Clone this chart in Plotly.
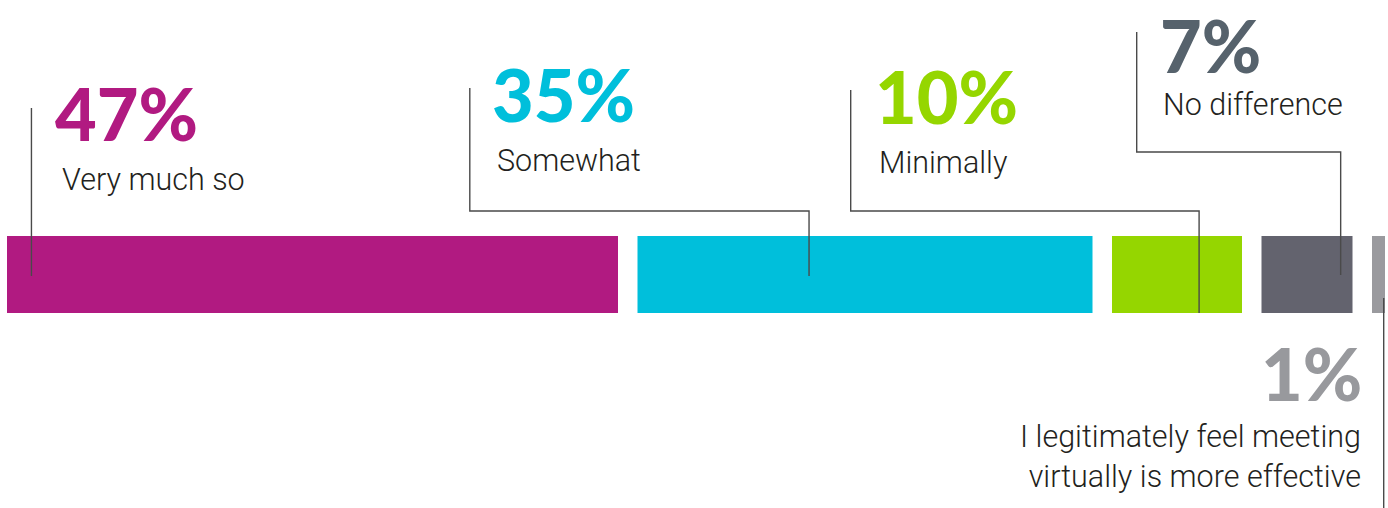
import plotly.graph_objects as go

# Survey responses
categories = ["Very much so", "Somewhat", "Minimally", "No difference",
              "I legitimately feel meeting<br>virtually is more effective"]
values = [47, 35, 10, 7, 1]
value_labels = ["47%", "35%", "10%", "7%", "1%"]

bar_colors = ["#B11A81", "#00BFDB", "#95D600", "#63636E", "#9A9A9E"]
number_colors = ["#B11A81", "#00BFDB", "#95D600", "#56626C", "#98999D"]

GAP = 1.5          # spacing between segments, in percent units
BAR_Y = 274.5      # bar centre (y axis runs in pixel-like units, top = 0)
BAR_H = 77
PX = 13.0          # pixels per percent unit
W, H = 1388, 508

# segment starts: cumulative values plus gaps
starts = []
acc = 0.0
for v in values:
    starts.append(acc)
    acc += v + GAP

fig = go.Figure()
for cat, v, s, c in zip(categories, values, starts, bar_colors):
    fig.add_trace(go.Bar(
        orientation="h", y=[BAR_Y], x=[v], base=[s], width=BAR_H,
        marker=dict(color=c, line=dict(width=0)), name=cat,
        hoverinfo="skip", showlegend=False))

# label layout: (number x, caption x, number y, number anchor, caption centre y, x anchor)
label_layout = [
    (3.6, 4.1, 113, "middle", 179, "left"),
    (37.2, 37.5, 94, "middle", 160, "left"),
    (66.7, 66.9, 96, "middle", 162, "left"),
    (88.6, 88.8, 0.5, "top", 104, "left"),
    (104.3, 104.3, 373, "middle", 456, "right"),
]
# leader layout: (fraction along segment, top y, elbow y, elbow x, bottom y)
leader_layout = [
    (0.04, 108, None, None, 276),
    (0.377, 88, 211, 35.6, 276),
    (0.67, 90, 211, 64.9, 313),
    (0.87, 32, 152, 86.9, 275),
    (0.9, 298, None, None, H),
]

line_style = dict(color="#4A4A4A", width=1.4)
for v, s, (frac, top, elbow_y, elbow_x, bottom) in zip(values, starts, leader_layout):
    xb = s + frac * v
    if elbow_y is None:
        path = f"M {xb},{top} L {xb},{bottom}"
    else:
        path = (f"M {elbow_x},{top} L {elbow_x},{elbow_y} "
                f"L {xb},{elbow_y} L {xb},{bottom}")
    fig.add_shape(type="path", path=path, xref="x", yref="y",
                  line=line_style, layer="above")

for cat, lab, col, (nx, cx, ny, nya, cy, anchor) in zip(
        categories, value_labels, number_colors, label_layout):
    fig.add_annotation(x=nx, y=ny, xref="x", yref="y", text=lab,
                       showarrow=False, xanchor=anchor, yanchor=nya,
                       align=anchor, borderpad=0,
                       font=dict(family="Lato", size=72, color=col, weight=900))
    fig.add_annotation(x=cx, y=cy, xref="x", yref="y", text=cat,
                       showarrow=False, xanchor=anchor, yanchor="middle",
                       align=anchor,
                       font=dict(family="Roboto", size=30.5, color="#231F20",
                                 weight=300))

x0 = -7 / PX
fig.update_layout(
    width=W, height=H,
    margin=dict(l=0, r=0, t=0, b=0),
    paper_bgcolor="white", plot_bgcolor="white",
    barmode="overlay",
    xaxis=dict(range=[x0, x0 + W / PX], visible=False, fixedrange=True),
    yaxis=dict(range=[H, 0], visible=False, fixedrange=True),
)

fig.write_html("out.html")
